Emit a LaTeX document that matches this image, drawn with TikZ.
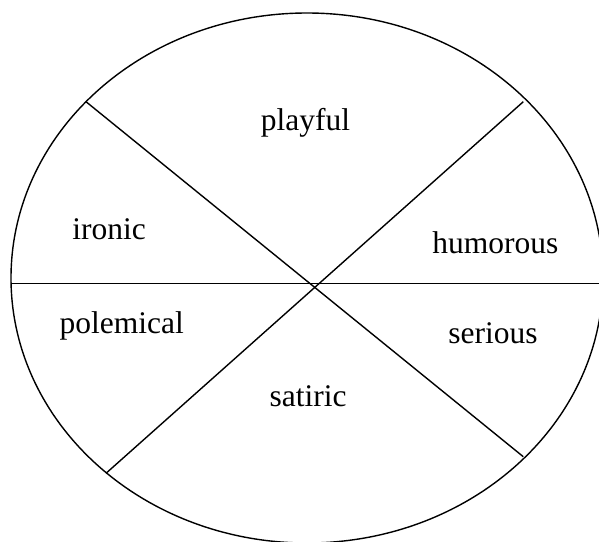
\documentclass[tikz,border=0pt]{standalone}
\usepackage{fontspec}
\setmainfont{Liberation Serif}
\usetikzlibrary{shapes.geometric}

\begin{document}
\begin{tikzpicture}[
  x=1pt, y=-1pt,
  font=\fontsize{31.5}{36}\selectfont,
  rim/.style={draw, ellipse, line width=1.4pt, inner sep=0pt},
  cut/.style={line width=1.4pt},
  tag/.style={anchor=base, inner sep=0pt}
]
\useasboundingbox (0,0) rectangle (599,541);
\node[rim, minimum width=592pt, minimum height=530pt] (wheel) at (307,278) {};

% ends of the three cuts
\coordinate (nw) at (86,101.7);
\coordinate (se) at (523.3,456.7);
\coordinate (sw) at (106,473.3);
\coordinate (ne) at (523.3,101.7);
\coordinate (w) at (11,283.3);
\coordinate (e) at (599,283.3);

\draw[cut] (nw) -- (se);
\draw[cut] (sw) -- (ne);
\draw[cut] (w) -- (e);

\node[tag] (playful) at (305.5,130) {playful};
\node[tag] (ironic) at (109,239) {ironic};
\node[tag] (humorous) at (495.3,253) {humorous};
\node[tag] (polemical) at (121.7,333) {polemical};
\node[tag] (serious) at (493,343.3) {serious};
\node[tag] (satiric) at (308,406.7) {satiric};
\end{tikzpicture}
\end{document}
